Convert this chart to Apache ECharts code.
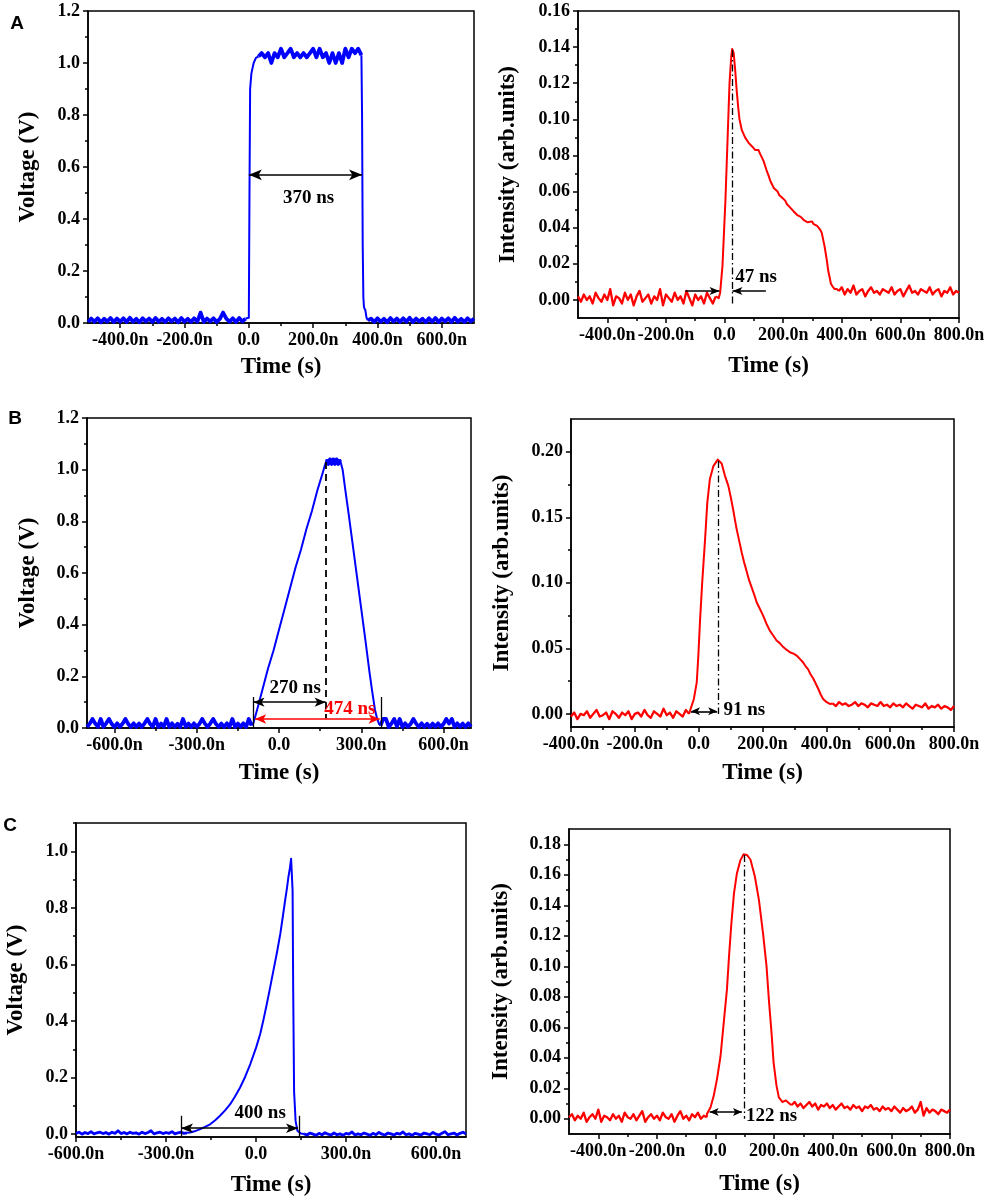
<!DOCTYPE html>
<html>
<head>
<meta charset="utf-8">
<script src="https://cdn.jsdelivr.net/npm/echarts@6/dist/echarts.min.js"></script>
<style>
  html, body { margin: 0; padding: 0; background: #fff; }
  #chart { width: 989px; height: 1202px; }
</style>
</head>
<body>
<div id="chart"></div>
<script>
// noisy stretches every 10 ns
function seg(t0, dt, vals) { return vals.map(function(v, i) { return [t0 + i * dt, v]; }); }

// --- A: square pulse (voltage) ---
var aVoltBase = [0.004,0.017,0.005,0.018,0.003,0.016,0.006,0.019,0.004,0.017,
  0.005,0.018,0.004,0.02,0.005,0.016,0.003,0.018,0.006,0.017,
  0.004,0.019,0.005,0.016,0.004,0.018,0.006,0.017,0.003,0.019,
  0.005,0.016,0.004,0.018,0.005,0.04,0.004,0.017,0.006,0.018,
  0.004,0.016,0.04,0.017,0.005,0.018,0.004,0.019,0.006,0.017];
var aVoltRise = [[0,0.02],[2,0.5],[4,0.9],[8,0.96],[15,1.0],[22,1.02]];
var aVoltTop = [1.025,1.038,1.022,1.038,1.0,1.038,1.022,1.055,1.022,1.038,
  1.055,1.022,1.038,1.022,1.038,1.022,1.038,1.055,1.022,1.055,
  1.022,1.038,1.0,1.038,1.0,1.038,1.0,1.055,1.022,1.055,
  1.038,1.055,1.03];
var aVoltFall = [[352,0.8],[354,0.3],[356,0.1],[358,0.06],[362,0.05],[366,0.02]];
var aVoltTail = [0.01,0.017,0.004,0.018,0.005,0.016,0.003,0.019,0.006,0.017,
  0.004,0.018,0.005,0.02,0.004,0.017,0.006,0.016,0.003,0.018,
  0.005,0.019,0.004,0.017,0.006,0.018,0.004,0.02,0.005,0.016,
  0.004,0.018,0.006,0.017];

// --- A: light response ---
var aLightBase = [0.002,-0.001,0.003,0.0,0.002,-0.002,0.004,0.001,-0.001,0.003,
  0.0,0.006,-0.003,0.002,0.001,-0.002,0.004,0.0,0.003,-0.003,
  0.002,0.005,-0.001,0.001,0.003,-0.002,0.002,0.0,0.006,-0.003,
  0.003,0.001,-0.001,0.004,0.0,0.002,-0.002,0.005,0.001,-0.003,
  0.003,0.0,0.002,-0.002,0.004,0.001,-0.002,0.002];
var aLightPulse = [[-20,0.001],[-15,0.004],[-7,0.019],[3,0.055],[11,0.092],[17,0.12],[23,0.135],[26,0.139],
  [28,0.14],[31,0.137],[36,0.128],[42,0.115],[47,0.106],[51,0.1],[55,0.097],[59,0.094],[64,0.093],[70,0.09],[76,0.089],
  [82,0.087],[88,0.086],[94,0.085],[99,0.084],[105,0.083],[111,0.082],[116,0.083],[121,0.081],[127,0.08],
  [133,0.077],[139,0.074],[145,0.071],[150,0.069],[156,0.066],[162,0.065],[168,0.062],[174,0.061],[181,0.06],
  [187,0.058],[194,0.057],[200,0.056],[207,0.055],[213,0.053],[219,0.052],[225,0.051],[230,0.051],[236,0.049],
  [242,0.049],[248,0.047],[254,0.048],[260,0.046],[266,0.046],[272,0.044],[278,0.045],[284,0.043],[290,0.044],
  [298,0.0435],[304,0.042],[310,0.042],[316,0.041],[320,0.041],[326,0.039],[332,0.037],[337,0.033],[341,0.03],
  [345,0.026],[349,0.022],[354,0.016],[358,0.013],[363,0.009],[369,0.0074],[376,0.006],[383,0.006]];
var aLightTail = [0.005,0.007,0.003,0.006,0.004,0.008,0.003,0.005,0.006,0.002,
  0.005,0.007,0.004,0.005,0.003,0.006,0.005,0.004,0.007,0.003,
  0.005,0.006,0.002,0.005,0.008,0.004,0.005,0.003,0.006,0.005,
  0.004,0.007,0.003,0.005,0.006,0.002,0.005,0.004,0.007,0.003,
  0.005,0.004];

// --- B: trapezoid pulse (voltage) ---
var bVoltBase = [0.004,0.017,0.035,0.017,0.005,0.035,0.004,0.018,0.035,0.016,
  0.004,0.018,0.005,0.017,0.035,0.016,0.004,0.018,0.005,0.017,
  0.004,0.018,0.035,0.016,0.005,0.035,0.004,0.017,0.005,0.035,
  0.004,0.018,0.005,0.016,0.004,0.035,0.005,0.017,0.004,0.018,
  0.005,0.016,0.035,0.017,0.004,0.018,0.035,0.016,0.005,0.017,
  0.004,0.018,0.005,0.035,0.004,0.017,0.005,0.018,0.004,0.035,
  0.01];
var bVoltRise = [[-93,0.02],[-80,0.07],[-60,0.15],[-40,0.23],[-20,0.3],[0,0.38],[20,0.46],[40,0.54],
  [60,0.62],[80,0.69],[100,0.77],[120,0.84],[140,0.92],[160,0.99],[168,1.02]];
var bVoltTop = [[175,1.04],[180,1.022],[186,1.04],[192,1.022],[198,1.04],[204,1.022],[210,1.04],[216,1.022],[222,1.04]];
var bVoltFall = [[227,1.02],[232,1.0],[242,0.92],[255,0.82],[270,0.7],[285,0.58],[300,0.46],[315,0.34],[330,0.215],
  [340,0.14],[350,0.07],[358,0.035],[365,0.015]];
var bVoltTail = [0.01,0.035,0.035,0.004,0.017,0.035,0.005,0.035,0.004,0.018,
  0.005,0.016,0.035,0.017,0.004,0.018,0.005,0.016,0.004,0.017,
  0.005,0.018,0.004,0.016,0.035,0.017,0.035,0.004,0.018,0.005,
  0.017,0.004,0.018,0.005];

// --- B: light response ---
var bLightBase = [-0.002,0.001,-0.004,0.0,-0.001,0.002,-0.003,0.0,0.003,-0.002,
  -0.001,0.001,-0.004,0.002,0.0,-0.003,0.001,-0.001,0.002,-0.004,
  0.0,0.001,-0.002,0.003,-0.001,-0.003,0.002,0.0,-0.002,0.004,
  -0.001,0.001,-0.003,0.002,0.0,-0.002,0.003,0.0];
var bLightPulse = [[-27,0.0025],[-15,0.0114],[-6,0.024],[-1,0.0445],[4,0.07],[11,0.1],[20,0.133],[27,0.161],
  [35,0.179],[46,0.189],[60,0.194],[72,0.191],[82,0.182],[93,0.174],[100,0.166],[108,0.156],[113,0.149],
  [119,0.141],[127,0.132],[135,0.123],[142,0.116],[150,0.109],[158,0.102],[166,0.0966],[174,0.091],
  [182,0.085],[192,0.08],[202,0.075],[212,0.069],[223,0.0635],[233,0.06],[244,0.056],[254,0.054],
  [265,0.051],[275,0.049],[286,0.047],[297,0.046],[307,0.0445],[317,0.042],[328,0.039],[336,0.036],
  [343,0.034],[351,0.03],[359,0.027],[367,0.023],[375,0.019],[382,0.015],[390,0.0114],[401,0.0089],[411,0.0076]];
var bLightTail = [0.008,0.006,0.009,0.007,0.008,0.006,0.007,0.009,0.006,0.008,
  0.007,0.005,0.008,0.007,0.006,0.009,0.006,0.007,0.005,0.008,
  0.006,0.007,0.005,0.008,0.006,0.004,0.007,0.006,0.005,0.008,
  0.004,0.006,0.005,0.007,0.004,0.006,0.005,0.003,0.006];

// --- C: exponential ramp (voltage) ---
var cVoltBase = [0.003,0.007,0.0,0.006,0.002,0.009,0.001,0.005,0.007,0.002,
  0.006,0.0,0.007,0.003,0.012,0.002,0.006,0.001,0.007,0.003,
  0.005,0.0,0.007,0.002,0.006,0.012,0.001,0.005,0.007,0.002,
  0.006,0.003,0.009,0.001,0.005,0.007,0.003,0.005];
var cVoltPulse = [[-220,0.006],[-205,0.01],[-186,0.018],[-170,0.026],[-153,0.035],[-136,0.049],[-120,0.065],
  [-103,0.084],[-86,0.106],[-70,0.133],[-53,0.165],[-36,0.203],[-19,0.248],[0,0.305],[14,0.354],[25,0.405],
  [36,0.46],[47,0.518],[58,0.578],[70,0.643],[81,0.708],[89,0.766],[97,0.826],[103,0.868],[108,0.909],
  [113,0.94],[117,0.974],[122,0.86],[124,0.507],[127,0.15],[132,0.047],[138,0.012],[150,0.002]];
var cVoltTail = [0.001,-0.003,0.004,0.0,-0.004,0.003,-0.002,0.005,0.0,-0.003,
  0.004,-0.002,0.001,-0.004,0.003,0.0,0.008,-0.003,0.001,-0.002,
  0.004,0.0,-0.004,0.003,-0.002,0.006,0.0,-0.003,0.004,0.001,
  -0.003,0.003,0.0,0.008,-0.002,0.001,-0.004,0.003,0.0,-0.003,
  0.004,0.001,-0.002,0.006,0.0,-0.003,0.003,0.009,-0.002,0.001,
  0.004,-0.003,0.003,0.007,0.0];

// --- C: light response ---
var cLightBase = [0.001,0.003,-0.001,0.002,0.0,0.004,-0.002,0.001,0.003,0.0,
  0.006,-0.002,0.002,0.001,-0.001,0.003,0.0,0.002,-0.002,0.004,
  0.001,0.0,0.003,-0.001,0.002,0.005,-0.002,0.001,0.003,0.0,
  0.002,-0.001,0.004,0.001,0.0,0.003,-0.002,0.002,0.005,0.0,
  0.002,-0.001,0.003,0.001,0.004,0.0,0.002,0.001];
var cLightPulse = [[-29,0.0033],[-17,0.0076],[-6,0.0152],[5,0.026],[17,0.041],[28,0.063],[39,0.085],
  [46,0.1065],[54,0.128],[63,0.148],[73,0.161],[85,0.1696],[96,0.1735],[107,0.173],[119,0.17],[134,0.159],
  [148,0.1435],[162,0.1218],[174,0.1],[182,0.078],[191,0.0565],[198,0.037],[208,0.0217],[216,0.014],
  [228,0.011],[240,0.012],[253,0.0098]];
var cLightTail = [0.009,0.011,0.008,0.01,0.007,0.009,0.011,0.008,0.01,0.006,
  0.009,0.008,0.01,0.007,0.009,0.006,0.008,0.01,0.007,0.008,
  0.006,0.009,0.007,0.008,0.005,0.008,0.007,0.009,0.006,0.007,
  0.005,0.008,0.006,0.007,0.005,0.008,0.006,0.004,0.007,0.005,
  0.006,0.008,0.004,0.006,0.011,0.002,0.007,0.004,0.006,0.005,
  0.003,0.006,0.005,0.004,0.006];

// tick values
var xTicks200 = [-400, -200, 0, 200, 400, 600, 800];
var xMinor200 = [-300, -100, 100, 300, 500, 700];
var xTicks300 = [-600, -300, 0, 300, 600];
var xMinor300 = [-450, -150, 150, 450];
var voltTicks = [0, 0.2, 0.4, 0.6, 0.8, 1.0, 1.2];
var voltMinor = [0.1, 0.3, 0.5, 0.7, 0.9, 1.1];
var aLightTicks = [0, 0.02, 0.04, 0.06, 0.08, 0.10, 0.12, 0.14, 0.16];
var aLightMinor = [0.01, 0.03, 0.05, 0.07, 0.09, 0.11, 0.13, 0.15];
var bLightTicks = [0, 0.05, 0.10, 0.15, 0.20];
var bLightMinor = [0.025, 0.075, 0.125, 0.175];
var cLightTicks = [0, 0.02, 0.04, 0.06, 0.08, 0.10, 0.12, 0.14, 0.16, 0.18];
var cLightMinor = [0.01, 0.03, 0.05, 0.07, 0.09, 0.11, 0.13, 0.15, 0.17];

// each trace: noisy stretches (true) are drawn a bit heavier, like the dense scope samples
var aVolt = [[seg(-500, 10, aVoltBase), true], [aVoltRise, false], [seg(30, 10, aVoltTop), true],
  [aVoltFall, false], [seg(370, 10, aVoltTail), true]];
var aLight = [[seg(-500, 10, aLightBase), true], [aLightPulse, false], [seg(390, 10, aLightTail), true]];
var bVolt = [[seg(-700, 10, bVoltBase), true], [bVoltRise, false], [bVoltTop, true], [bVoltFall, false],
  [seg(370, 10, bVoltTail), true]];
var bLight = [[seg(-400, 10, bLightBase), true], [bLightPulse, false], [seg(420, 10, bLightTail), true]];
var cVolt = [[seg(-600, 10, cVoltBase), true], [cVoltPulse, false], [seg(160, 10, cVoltTail), true]];
var cLight = [[seg(-500, 10, cLightBase), true], [cLightPulse, false], [seg(260, 10, cLightTail), true]];

var FONT = '"Liberation Serif", "Times New Roman", serif';
var BLUE = '#0000ff', RED = '#ff0000', BLACK = '#000000';
var DASHDOT = [7, 3, 1.5, 3];

function fmtX(v) { return v === 0 ? '0.0' : v.toFixed(1) + 'n'; }

var panels = [
  { letter: 'A', lx: 17, ly: 24, grid: { left: 88, top: 11, width: 386, height: 312 },
    x: [-500, 700], y: [0, 1.2], xt: xTicks200.slice(0, 6), xm: xMinor200.slice(0, 5), yt: voltTicks, ym: voltMinor,
    yDec: 1, yName: 'Voltage (V)', yGap: 48, xGap: 33, trace: aVolt, color: BLUE, noiseW: 3.8,
    lines: [{ p: [[0, 0.57], [352, 0.57]], heads: [1, 1], size: [8, 13] }],
    texts: [{ s: '370 ns', at: [186, 0.481] }] },
  { grid: { left: 578, top: 11, width: 381, height: 307 },
    x: [-500, 800], y: [-0.01, 0.16], xt: xTicks200, xm: xMinor200, yt: aLightTicks, ym: aLightMinor,
    yDec: 2, yName: 'Intensity (arb.units)', yGap: 58, xGap: 37, trace: aLight, color: RED, noiseW: 2.3,
    lines: [
      { p: [[-134, 0.005], [-17, 0.005]], heads: [0, 1], size: [6, 10] },
      { p: [[141, 0.005], [27, 0.005]], heads: [0, 1], size: [6, 10] },
      { p: [[25, -0.002], [25, 0.139]], type: DASHDOT, width: 1.3 }
    ],
    texts: [{ s: '47 ns', at: [35, 0.0129], left: true }] },
  { letter: 'B', lx: 15, ly: 419, grid: { left: 87, top: 418, width: 384, height: 310 },
    x: [-700, 700], y: [0, 1.2], xt: xTicks300, xm: xMinor300, yt: voltTicks, ym: voltMinor,
    yDec: 1, yName: 'Voltage (V)', yGap: 47, xGap: 34, trace: bVolt, color: BLUE, noiseW: 3.8,
    lines: [
      { p: [[171, 1.03], [171, 0.036]], type: [7, 5], width: 1.8 },
      { p: [[-93, 0.1], [170, 0.1]], heads: [1, 1], size: [7, 11] },
      { p: [[-93, 0.12], [-93, 0.0]], width: 1.3 },
      { p: [[372, 0.12], [372, 0.0]], width: 1.3 },
      { p: [[-87, 0.035], [367, 0.035]], heads: [1, 1], size: [7, 11], color: RED }
    ],
    texts: [{ s: '270 ns', at: [59, 0.153] }, { s: '474 ns', at: [258, 0.074], color: RED }] },
  { grid: { left: 571, top: 419, width: 383, height: 308 },
    x: [-400, 800], y: [-0.01, 0.225], xt: xTicks200, xm: xMinor200, yt: bLightTicks, ym: bLightMinor,
    yDec: 2, yName: 'Intensity (arb.units)', yGap: 57, xGap: 35, trace: bLight, color: RED, noiseW: 2.3,
    lines: [
      { p: [[60, 0.193], [60, 0.0]], type: DASHDOT, width: 1.3 },
      { p: [[-24, 0.002], [58, 0.002]], heads: [1, 1], size: [6, 9] }
    ],
    texts: [{ s: '91 ns', at: [76, 0.003], left: true }] },
  { letter: 'C', lx: 10, ly: 826, grid: { left: 76, top: 823, width: 390, height: 314 },
    x: [-600, 700], y: [-0.01, 1.1], xt: xTicks300, xm: xMinor300, yt: voltTicks.slice(0, 6), ym: voltMinor,
    yDec: 1, yName: 'Voltage (V)', yGap: 48, xGap: 37, trace: cVolt, color: BLUE, noiseW: 2.8,
    lines: [
      { p: [[-250, 0.021], [140, 0.021]], heads: [1, 1], size: [7, 12] },
      { p: [[-250, 0.065], [-250, -0.01]], width: 1.3 },
      { p: [[145, 0.065], [145, -0.01]], width: 1.3 }
    ],
    texts: [{ s: '400 ns', at: [14, 0.073] }] },
  { grid: { left: 569, top: 829, width: 381, height: 305 },
    x: [-500, 800], y: [-0.01, 0.19], xt: xTicks200, xm: xMinor200, yt: cLightTicks, ym: cLightMinor,
    yDec: 2, yName: 'Intensity (arb.units)', yGap: 56, xGap: 39, trace: cLight, color: RED, noiseW: 2.3,
    lines: [
      { p: [[97, 0.173], [97, 0.0]], type: DASHDOT, width: 1.3 },
      { p: [[-20, 0.0044], [90, 0.0044]], heads: [1, 1], size: [6, 9] }
    ],
    texts: [{ s: '122 ns', at: [102, 0.002], left: true }] }
];

var tickFont = { fontFamily: FONT, fontWeight: 'bold', fontSize: 18, color: BLACK };
var nameFont = { fontFamily: FONT, fontWeight: 'bold', fontSize: 23, color: BLACK };

var grids = [], xAxes = [], yAxes = [], series = [], graphics = [];

panels.forEach(function(p, i) {
  grids.push(Object.assign({ show: true, borderColor: BLACK, borderWidth: 1.5, backgroundColor: 'transparent',
    outerBoundsMode: 'none', containLabel: false }, p.grid));

  // main axes carry the labels and the long ticks
  xAxes.push({
    type: 'value', gridIndex: i, min: p.x[0], max: p.x[1], position: 'bottom',
    name: 'Time (s)', nameLocation: 'middle', nameGap: p.xGap, nameTextStyle: nameFont,
    axisLine: { show: true, onZero: false, lineStyle: { color: BLACK, width: 1.5 } },
    axisTick: { show: true, length: 5, lineStyle: { color: BLACK, width: 1.5 }, customValues: p.xt },
    axisLabel: Object.assign({ margin: 8, customValues: p.xt, formatter: fmtX, hideOverlap: false,
      showMinLabel: true, showMaxLabel: true }, tickFont),
    splitLine: { show: false }
  });
  // second axis only for the short minor ticks
  xAxes.push({
    type: 'value', gridIndex: i, min: p.x[0], max: p.x[1], position: 'bottom',
    axisLine: { show: false, onZero: false },
    axisTick: { show: true, length: 3, lineStyle: { color: BLACK, width: 1.5 }, customValues: p.xm },
    axisLabel: { show: false }, splitLine: { show: false }
  });
  yAxes.push({
    type: 'value', gridIndex: i, min: p.y[0], max: p.y[1], position: 'left',
    name: p.yName, nameLocation: 'middle', nameGap: p.yGap, nameRotate: 90, nameTextStyle: nameFont,
    axisLine: { show: true, onZero: false, lineStyle: { color: BLACK, width: 1.5 } },
    axisTick: { show: true, length: 5, lineStyle: { color: BLACK, width: 1.5 }, customValues: p.yt },
    axisLabel: Object.assign({ margin: 8, customValues: p.yt, hideOverlap: false,
      formatter: (function(d) { return function(v) { return v.toFixed(d); }; })(p.yDec) }, tickFont),
    splitLine: { show: false }
  });
  yAxes.push({
    type: 'value', gridIndex: i, min: p.y[0], max: p.y[1], position: 'left',
    axisLine: { show: false, onZero: false },
    axisTick: { show: true, length: 3, lineStyle: { color: BLACK, width: 1.5 }, customValues: p.ym },
    axisLabel: { show: false }, splitLine: { show: false }
  });

  var mlData = p.lines.map(function(l) {
    var style = { color: l.color || BLACK, width: l.width || 1.6, type: l.type || 'solid' };
    var h = l.heads || [0, 0];
    return [
      { coord: l.p[0], symbol: h[0] ? 'arrow' : 'none', symbolSize: l.size || 8, lineStyle: style },
      { coord: l.p[1], symbol: h[1] ? 'arrow' : 'none', symbolSize: l.size || 8, lineStyle: style }
    ];
  });
  var mpData = p.texts.map(function(t) {
    return {
      coord: t.at, value: 0, symbol: 'circle', symbolSize: 1, itemStyle: { color: 'rgba(0,0,0,0)' },
      label: Object.assign({ show: true, formatter: t.s, position: t.left ? 'right' : 'inside', distance: 0 },
        tickFont, { fontSize: 19, color: t.color || BLACK })
    };
  });

  p.trace.forEach(function(piece, k) {
    var pts = piece[0];
    if (!piece[1]) {
      // join the smooth part to its noisy neighbours
      var prev = p.trace[k - 1], next = p.trace[k + 1];
      pts = (prev ? [prev[0][prev[0].length - 1]] : []).concat(pts, next ? [next[0][0]] : []);
    }
    var s = {
      type: 'line', xAxisIndex: 2 * i, yAxisIndex: 2 * i, data: pts,
      showSymbol: false, symbol: 'none', sampling: null, clip: true, z: 2,
      lineStyle: { color: p.color, width: piece[1] ? p.noiseW : 2, join: 'round' }, itemStyle: { color: p.color },
      emphasis: { disabled: true }, silent: true, animation: false
    };
    if (k === 0) {
      s.markLine = { silent: true, animation: false, symbol: ['none', 'none'], label: { show: false },
        emphasis: { disabled: true }, data: mlData, z: 5 };
      s.markPoint = { silent: true, animation: false, data: mpData, z: 6 };
    }
    series.push(s);
  });

  if (p.letter) {
    graphics.push({ type: 'text', x: p.lx, y: p.ly, silent: true,
      style: { text: p.letter, fill: BLACK, font: 'bold 19px "Liberation Sans", Arial, sans-serif',
        textAlign: 'center', textVerticalAlign: 'middle' } });
  }
});

var chart = echarts.init(document.getElementById('chart'), null, { renderer: 'canvas' });
chart.setOption({
  animation: false,
  backgroundColor: '#ffffff',
  grid: grids,
  xAxis: xAxes,
  yAxis: yAxes,
  series: series,
  graphic: graphics
});
window.addEventListener('resize', function() { chart.resize(); });
</script>
</body>
</html>
